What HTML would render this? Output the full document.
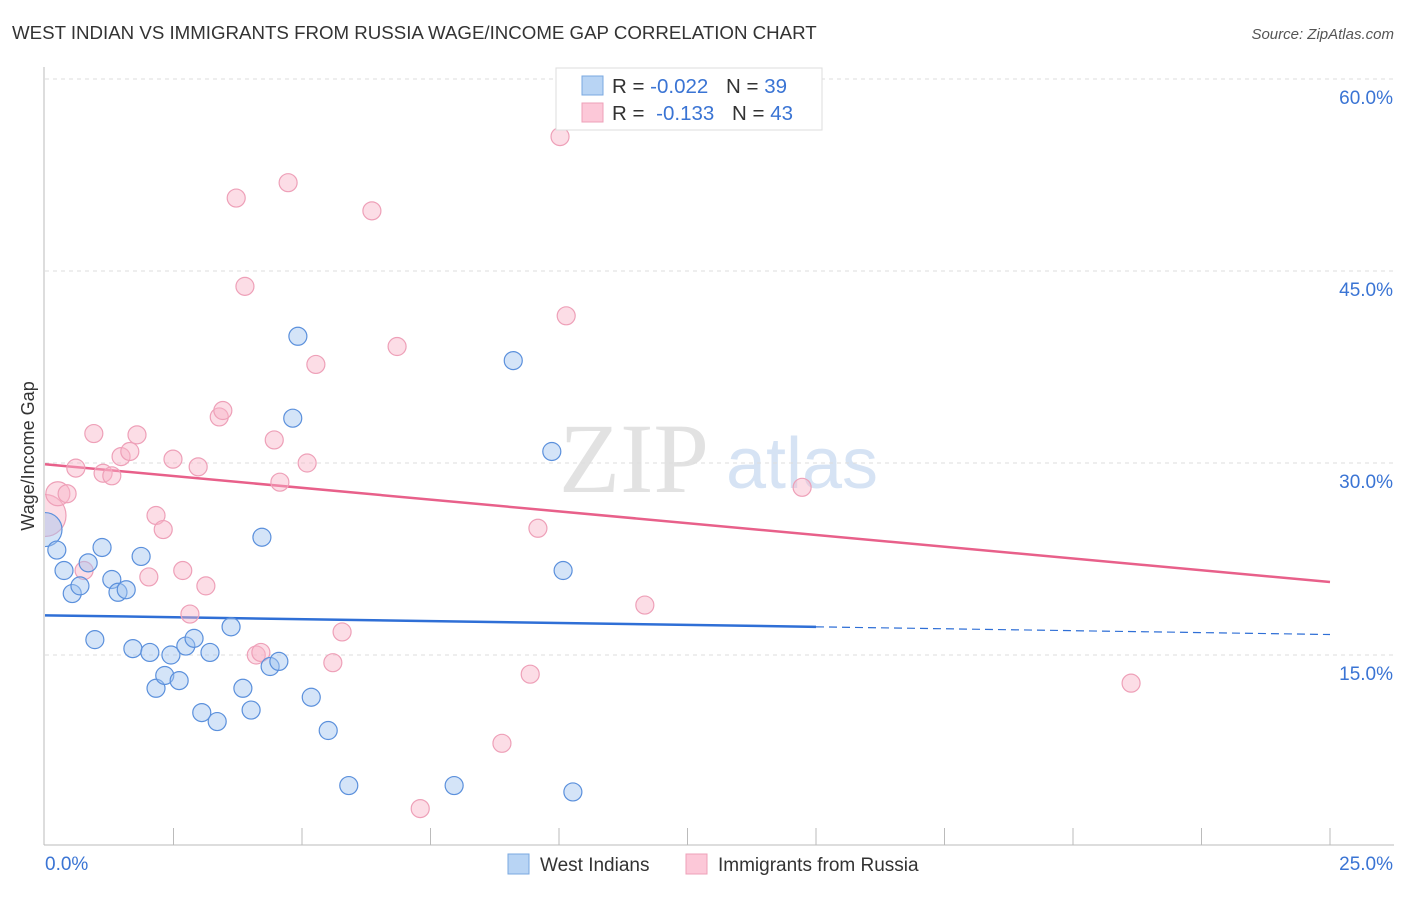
<!DOCTYPE html>
<html><head><meta charset="utf-8"><style>
html,body{margin:0;padding:0;background:#fff;}
body{width:1406px;height:892px;overflow:hidden;font-family:"Liberation Sans",sans-serif;}
</style></head><body>
<svg id="chart" width="1406" height="892" xmlns="http://www.w3.org/2000/svg" font-family="Liberation Sans, sans-serif">
<defs><clipPath id="plotclip"><rect x="45" y="60" width="1360" height="786"/></clipPath></defs>
<text x="12" y="39" font-size="18.7" fill="#333">WEST INDIAN VS IMMIGRANTS FROM RUSSIA WAGE/INCOME GAP CORRELATION CHART</text>
<text x="1394" y="39" font-size="15" fill="#555" text-anchor="end" font-style="italic">Source: ZipAtlas.com</text>
<text transform="translate(34,456) rotate(-90)" font-size="18" fill="#333" text-anchor="middle">Wage/Income Gap</text>
<g>
<text x="634" y="492" font-size="100" fill="#cfcfcf" font-family="Liberation Serif, serif" text-anchor="middle" opacity="0.6">ZIP</text>
<text x="802" y="488" font-size="72" fill="#bcd2ee" text-anchor="middle" opacity="0.6">atlas</text>
</g>
<g id="grid"></g>
<g id="axes"></g>
<g id="trends"></g>
<g id="points" clip-path="url(#plotclip)"></g>
<g>
<rect x="556" y="68" width="266" height="62" fill="#fff" stroke="#ddd"/>
<rect x="582" y="76" width="21" height="19" fill="#b8d4f4" stroke="#7aa8e0"/>
<rect x="582" y="103" width="21" height="19" fill="#fcc8d8" stroke="#eea0b8"/>
<text x="612" y="93" font-size="20.5" fill="#333">R = <tspan fill="#3a74d4">-0.022</tspan>  <tspan dx="12">N = </tspan><tspan fill="#3a74d4">39</tspan></text>
<text x="612" y="120" font-size="20.5" fill="#333">R = <tspan fill="#3a74d4" dx="6">-0.133</tspan>  <tspan dx="12">N = </tspan><tspan fill="#3a74d4">43</tspan></text>
</g>
<g>
<rect x="508" y="854" width="21" height="20" fill="#b8d4f4" stroke="#7aa8e0"/>
<text x="540" y="871" font-size="19" fill="#333">West Indians</text>
<rect x="686" y="854" width="21" height="20" fill="#fcc8d8" stroke="#eea0b8"/>
<text x="718" y="871" font-size="19" fill="#333">Immigrants from Russia</text>
</g>
</svg>
<script>
const blueX=[0.0,0.23,0.37,0.53,0.68,0.84,0.97,1.11,1.30,1.42,1.58,1.71,1.87,2.04,2.16,2.33,2.45,2.61,2.74,2.90,3.05,3.21,3.35,3.62,3.85,4.01,4.22,4.38,4.55,4.82,4.92,5.18,5.51,5.91,7.96,9.11,9.86,10.08,10.27];
const blueY=[24.8,23.2,21.6,19.8,20.4,22.2,16.2,23.4,20.9,19.9,20.1,15.5,22.7,15.2,12.4,13.4,15.0,13.0,15.7,16.3,10.5,15.2,9.8,17.2,12.4,10.7,24.2,14.1,14.5,33.5,39.9,11.7,9.1,4.8,4.8,38.0,30.9,21.6,4.3];
const pinkX=[0,0.25,0.43,0.60,0.76,0.95,1.13,1.30,1.48,1.65,1.79,2.02,2.16,2.30,2.49,2.68,2.82,2.98,3.13,3.39,3.46,3.72,3.89,4.11,4.20,4.46,4.57,4.73,5.10,5.27,5.60,5.78,6.36,6.85,7.30,8.89,9.44,9.59,10.02,10.14,11.67,14.73,21.13];
const pinkY=[25.9,27.6,27.6,29.6,21.6,32.3,29.2,29.0,30.5,30.9,32.2,21.1,25.9,24.8,30.3,21.6,18.2,29.7,20.4,33.6,34.1,50.7,43.8,15.0,15.2,31.8,28.5,51.9,30.0,37.7,14.4,16.8,49.7,39.1,3.0,8.1,13.5,24.9,55.5,41.5,18.9,28.1,12.8];
const blueTrend=[18.1,16.6];
const pinkTrend=[29.9,20.7];
const yTicks=[15,30,45,60];
const yTickLabels=["15.0%","30.0%","45.0%","60.0%"];
const xTicks=[0,2.5,5,7.5,10,12.5,15,17.5,20,22.5,25];
const NS="http://www.w3.org/2000/svg";
const X=v=>45+v/25*1285, Y=v=>847-v*12.8;
function mk(tag,attrs,parent){const e=document.createElementNS(NS,tag);for(const k in attrs)e.setAttribute(k,attrs[k]);document.getElementById(parent).appendChild(e);return e;}
yTicks.forEach((t,i)=>{
 const l=mk('line',{x1:45,x2:1394,y1:Y(t),y2:Y(t),stroke:'#ddd','stroke-dasharray':'4,4'},'grid');
 
 
 const tx=mk('text',{x:1393,y:Y(t)+25,'font-size':19,fill:'#3a74d4','text-anchor':'end'},'axes');
 tx.textContent=yTickLabels[i];
 
 
});
let ax=mk('line',{x1:44,x2:44,y1:67,y2:845,stroke:'#bbb'},'axes');


ax=mk('line',{x1:44,x2:1394,y1:845,y2:845,stroke:'#bbb'},'axes');


xTicks.forEach(t=>{if(t===0)return;
 const l=mk('line',{x1:X(t),x2:X(t),y1:828,y2:845,stroke:'#bbb'},'axes');
 
 
});
let t0=mk('text',{x:45,y:870,'font-size':19,fill:'#3a74d4'},'axes');t0.textContent='0.0%';


let t1=mk('text',{x:1393,y:870,'font-size':19,fill:'#3a74d4','text-anchor':'end'},'axes');t1.textContent='25.0%';


const bMid=blueTrend[0]+(blueTrend[1]-blueTrend[0])*15/25;
let tl=mk('line',{x1:X(0),y1:Y(blueTrend[0]),x2:X(15),y2:Y(bMid),stroke:'#2f6fd6','stroke-width':2.5},'trends');


tl=mk('line',{x1:X(15),y1:Y(bMid),x2:X(25),y2:Y(blueTrend[1]),stroke:'#2f6fd6','stroke-width':1.2,'stroke-dasharray':'8,5'},'trends');


tl=mk('line',{x1:X(0),y1:Y(pinkTrend[0]),x2:X(25),y2:Y(pinkTrend[1]),stroke:'#e8608a','stroke-width':2.5},'trends');


pinkX.forEach((v,i)=>{
 const r=i===0?21:(i===1?12:9);
 const c=mk('circle',{cx:X(v),cy:Y(pinkY[i]),r:r,fill:'rgba(248,180,200,0.45)',stroke:'#eea0b8','stroke-width':1.2},'points');
 
 
});
blueX.forEach((v,i)=>{
 const r=i===0?17:9;
 const c=mk('circle',{cx:X(v),cy:Y(blueY[i]),r:r,fill:'rgba(160,195,240,0.45)',stroke:'#5b90dc','stroke-width':1.2},'points');
 
 
});
</script>
</body></html>
